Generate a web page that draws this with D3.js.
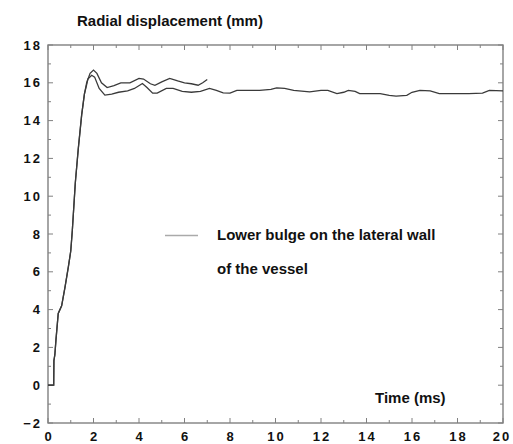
<!DOCTYPE html>
<html><head><meta charset="utf-8">
<script src="https://cdn.jsdelivr.net/npm/d3@7"></script>
<style>body{margin:0;background:#fff}svg{display:block}text{font-family:"Liberation Sans",Arial,sans-serif;font-weight:bold;fill:#111}</style>
</head><body>
<script>
// Time (ms) and radial displacement (mm)
const upperTime = [0,0.25,0.26,0.3,0.35,0.45,0.6,0.75,0.9,1.0,1.07,1.2,1.33,1.48,1.6,1.7,1.85,2.0,2.15,2.35,2.6,2.9,3.2,3.6,4.0,4.2,4.5,4.7,5.0,5.35,5.7,6.0,6.3,6.6,6.8,7.0];
const upperDisp = [0,0,1.3,1.6,2.4,3.8,4.2,5.2,6.3,7.1,8.2,10.7,12.5,14.3,15.4,16.0,16.5,16.67,16.5,16.0,15.75,15.85,16.0,16.0,16.23,16.2,15.95,15.87,16.05,16.23,16.1,16.0,15.95,15.87,16.0,16.17];
const lowerTime = [0,0.25,0.26,0.3,0.35,0.45,0.6,0.75,0.9,1.0,1.07,1.2,1.33,1.48,1.6,1.7,1.75,1.92,2.05,2.25,2.5,2.8,3.1,3.5,3.8,4.15,4.35,4.6,4.8,5.2,5.5,5.9,6.3,6.7,7.1,7.4,7.7,8.0,8.3,9.3,9.8,10.05,10.4,10.8,11.5,12.0,12.3,12.7,13.0,13.2,13.5,13.7,14.6,15.0,15.3,15.77,16.0,16.35,16.8,17.2,18.5,19.1,19.4,20];
const lowerDisp = [0,0,1.3,1.6,2.4,3.8,4.2,5.2,6.3,7.1,8.2,10.7,12.5,14.3,15.4,15.9,16.2,16.4,16.3,15.7,15.35,15.4,15.5,15.57,15.7,15.96,15.75,15.45,15.45,15.7,15.7,15.55,15.5,15.55,15.7,15.6,15.47,15.45,15.6,15.6,15.65,15.73,15.7,15.6,15.52,15.6,15.6,15.43,15.5,15.6,15.55,15.43,15.43,15.33,15.29,15.34,15.5,15.6,15.57,15.43,15.43,15.45,15.6,15.57];
const xTicks = [0,2,4,6,8,10,12,14,16,18,20];
const yTicks = [-2,0,2,4,6,8,10,12,14,16,18];
const xMinor = [1,3,5,7,9,11,13,15,17,19];
const yMinor = [-1,1,3,5,7,9,11,13,15,17];
const yTitle = "Radial displacement (mm)";
const xTitle = "Time (ms)";
const legendLines = ["Lower bulge on the lateral wall","of the vessel"];

const W=513,H=444, m={l:48,r:10,t:45,b:21};
const svg=d3.select("body").append("svg").attr("width",W).attr("height",H);
const x=d3.scaleLinear().domain([0,20]).range([m.l,W-m.r]);
const y=d3.scaleLinear().domain([-2,18]).range([H-m.b,m.t]);

const axisCol="#808080";
// frame
svg.append("rect").attr("x",x(0)).attr("y",y(18)).attr("width",x(20)-x(0)).attr("height",y(-2)-y(18))
  .attr("fill","none").attr("stroke",axisCol).attr("stroke-width",1.4);
// ticks (inward on all sides)
function ticks(vals,len){
  svg.append("g").selectAll("line").data(vals).join("line")
    .attr("x1",d=>x(d)).attr("x2",d=>x(d)).attr("y1",y(-2)).attr("y2",y(-2)-len).attr("stroke",axisCol);
  svg.append("g").selectAll("line").data(vals).join("line")
    .attr("x1",d=>x(d)).attr("x2",d=>x(d)).attr("y1",y(18)).attr("y2",y(18)+len).attr("stroke",axisCol);
}
function yticks(vals,len){
  svg.append("g").selectAll("line").data(vals).join("line")
    .attr("y1",d=>y(d)).attr("y2",d=>y(d)).attr("x1",x(0)).attr("x2",x(0)+len).attr("stroke",axisCol);
  svg.append("g").selectAll("line").data(vals).join("line")
    .attr("y1",d=>y(d)).attr("y2",d=>y(d)).attr("x1",x(20)).attr("x2",x(20)-len).attr("stroke",axisCol);
}
ticks(xTicks,5); ticks(xMinor,3); yticks(yTicks,5); yticks(yMinor,3);

// tick labels
svg.append("g").selectAll("text").data(xTicks).join("text")
  .attr("x",d=>x(d)+1+(d===20?-2:0)).attr("y",y(-2)+18).attr("text-anchor","middle")
  .attr("font-size",13).attr("letter-spacing",2).text(d=>d);
svg.append("g").selectAll("text").data(yTicks).join("text")
  .attr("x",x(0)-6).attr("y",d=>y(d)+4.5).attr("text-anchor","end")
  .attr("font-size",13).attr("letter-spacing",2).text(d=>d<0?"\u2212"+(-d):d);

// titles
svg.append("text").attr("x",77).attr("y",26).attr("font-size",15).text(yTitle);
svg.append("text").attr("x",375).attr("y",403).attr("font-size",15).text(xTitle);

// curves
const line=d3.line().x(d=>x(d[0])).y(d=>y(d[1]));
svg.append("path").datum(d3.zip(lowerTime,lowerDisp)).attr("d",line).attr("fill","none").attr("stroke","#3a3a3a").attr("stroke-width",1.3);
svg.append("path").datum(d3.zip(upperTime,upperDisp)).attr("d",line).attr("fill","none").attr("stroke","#3a3a3a").attr("stroke-width",1.3);

// legend
svg.append("line").attr("x1",165).attr("x2",198).attr("y1",235.5).attr("y2",235.5).attr("stroke","#aaa").attr("stroke-width",1.3);
svg.append("g").selectAll("text").data(legendLines).join("text")
  .attr("x",217).attr("y",(d,i)=>240+i*34).attr("font-size",15).text(d=>d);
</script>
</body></html>
